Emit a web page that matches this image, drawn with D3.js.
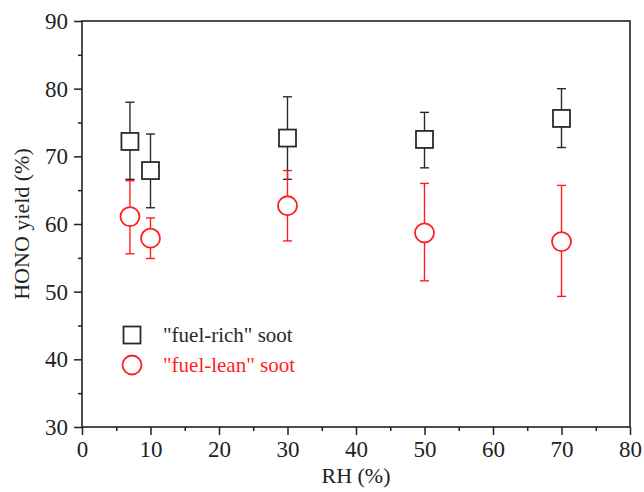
<!DOCTYPE html>
<html>
<head>
<meta charset="utf-8">
<script src="https://cdn.jsdelivr.net/npm/d3@7"></script>
<style>
  body { margin: 0; background: #fff; }
  svg text { font-family: "Liberation Serif", "Times New Roman", serif !important; }
</style>
</head>
<body>
<div id="chart"></div>
<script>
/* data */
var rh = [7, 10, 30, 50, 70];
var richYield = [72.2, 67.9, 72.7, 72.5, 75.6];
var richLow = [66.6, 62.4, 66.6, 68.3, 71.3];
var richHigh = [78.0, 73.3, 78.8, 76.5, 80.0];
var leanYield = [61.1, 57.9, 62.7, 58.7, 57.4];
var leanLow = [55.6, 54.9, 57.5, 51.6, 49.3];
var leanHigh = [66.4, 60.9, 67.9, 66.0, 65.7];
var xTicks = [0, 10, 20, 30, 40, 50, 60, 70, 80];
var yTicks = [30, 40, 50, 60, 70, 80, 90];
var legendLabels = ['"fuel-rich" soot', '"fuel-lean" soot'];

/* setup */
var iWidth = 644,
    iHeight = 492,
    margin = {top: 21, right: 14, bottom: 65, left: 82},
    serif = '"Liberation Serif", "Times New Roman", serif',
    axisColor = '#222',
    black = '#2a2a2a',
    red = '#ff1f1f';

var w = iWidth - margin.left - margin.right,
    h = iHeight - margin.top - margin.bottom;

var x = d3.scaleLinear().domain([0, 80]).range([0, w]);
var y = d3.scaleLinear().domain([30, 90]).range([h, 0]);

var svg = d3.select('#chart').append('svg')
    .attr('width', iWidth)
    .attr('height', iHeight)
    .attr('font-family', serif)
  .append('g')
    .attr('transform', 'translate(' + margin.left + ',' + margin.top + ')');

// minor ticks (every 5)
svg.append('g')
    .attr('transform', 'translate(0,' + h + ')')
    .call(d3.axisBottom(x).tickValues(d3.range(5, 80, 10)).tickSize(4).tickFormat(''))
    .call(function (g) { g.select('.domain').remove(); });
svg.append('g')
    .call(d3.axisLeft(y).tickValues(d3.range(35, 90, 10)).tickSize(4).tickFormat(''))
    .call(function (g) { g.select('.domain').remove(); });

// major ticks
var xAxis = svg.append('g')
    .attr('transform', 'translate(0,' + h + ')')
    .call(d3.axisBottom(x).tickValues(xTicks).tickSize(8).tickPadding(6));
var yAxis = svg.append('g')
    .call(d3.axisLeft(y).tickValues(yTicks).tickSize(8).tickPadding(6));

[xAxis, yAxis].forEach(function (g) {
    g.attr('font-family', serif).attr('font-size', 23);
    g.select('.domain').remove();
    g.selectAll('text').attr('fill', axisColor);
});
svg.selectAll('.tick line').attr('stroke', axisColor).attr('stroke-width', 1.5);

// frame
svg.append('rect')
    .attr('width', w)
    .attr('height', h)
    .attr('fill', 'none')
    .attr('stroke', axisColor)
    .attr('stroke-width', 1.6);

// axis titles
svg.append('text')
    .attr('x', w / 2)
    .attr('y', h + 56)
    .attr('text-anchor', 'middle')
    .attr('font-size', 22)
    .attr('fill', axisColor)
    .text('RH (%)');

svg.append('text')
    .attr('transform', 'translate(' + (29 - margin.left) + ',' + (h / 2) + ') rotate(-90)')
    .attr('text-anchor', 'middle')
    .attr('font-size', 22)
    .attr('fill', axisColor)
    .text('HONO yield (%)');

function errorBars(vals, lo, hi, color) {
    var g = svg.append('g').attr('stroke', color).attr('stroke-width', 1.4);
    rh.forEach(function (d, i) {
        var cx = x(d);
        g.append('line').attr('x1', cx).attr('x2', cx).attr('y1', y(lo[i])).attr('y2', y(hi[i]));
        g.append('line').attr('x1', cx - 4.5).attr('x2', cx + 4.5).attr('y1', y(lo[i])).attr('y2', y(lo[i]));
        g.append('line').attr('x1', cx - 4.5).attr('x2', cx + 4.5).attr('y1', y(hi[i])).attr('y2', y(hi[i]));
    });
}

errorBars(richYield, richLow, richHigh, black);
errorBars(leanYield, leanLow, leanHigh, red);

var sq = 17, rad = 9.5;

svg.selectAll('.rich')
    .data(rh)
  .enter().append('rect')
    .attr('class', 'rich')
    .attr('x', function (d) { return x(d) - sq / 2; })
    .attr('y', function (d, i) { return y(richYield[i]) - sq / 2; })
    .attr('width', sq)
    .attr('height', sq)
    .attr('fill', '#fff')
    .attr('stroke', black)
    .attr('stroke-width', 1.8);

svg.selectAll('.lean')
    .data(rh)
  .enter().append('circle')
    .attr('class', 'lean')
    .attr('cx', function (d) { return x(d); })
    .attr('cy', function (d, i) { return y(leanYield[i]); })
    .attr('r', rad)
    .attr('fill', '#fff')
    .attr('stroke', red)
    .attr('stroke-width', 1.8);

/* legend */
var legend = svg.append('g').attr('transform', 'translate(' + (132 - margin.left) + ',' + (335 - margin.top) + ')');
legend.append('rect')
    .attr('x', -sq / 2).attr('y', -sq / 2)
    .attr('width', sq).attr('height', sq)
    .attr('fill', '#fff').attr('stroke', black).attr('stroke-width', 1.8);
legend.append('circle')
    .attr('cy', 30).attr('r', rad)
    .attr('fill', '#fff').attr('stroke', red).attr('stroke-width', 1.8);
legend.selectAll('.lbl')
    .data(legendLabels)
  .enter().append('text')
    .attr('x', 31)
    .attr('y', function (d, i) { return i * 30; })
    .attr('dy', '0.35em')
    .attr('font-size', 21)
    .attr('fill', function (d, i) { return i ? red : black; })
    .text(function (d) { return d; });
</script>
</body>
</html>
